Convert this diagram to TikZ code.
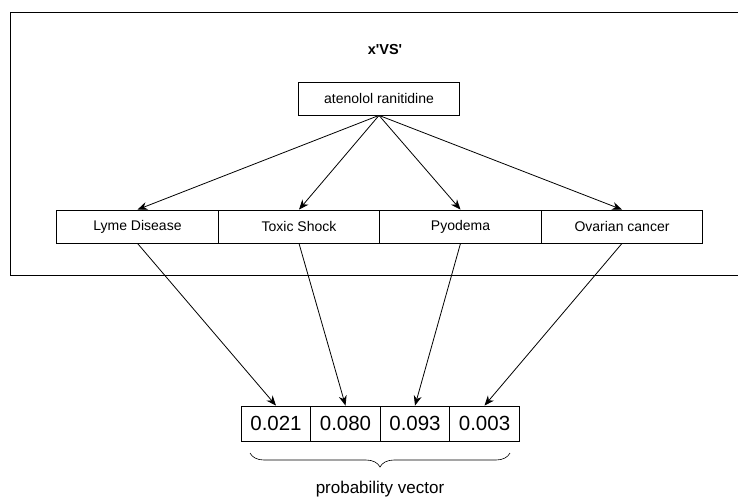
\documentclass[tikz,border=0pt]{standalone}
\usepackage{fontspec}
\setmainfont{Liberation Sans}
\newfontfamily\titlefont{Liberation Sans}
\usetikzlibrary{arrows.meta,decorations.pathreplacing}

\tikzset{
    labelbox/.style={draw, line width=0.8pt, minimum width=161.5pt, minimum height=33pt,
        inner sep=0pt, font=\fontsize{14}{16}\selectfont},
    cellbox/.style={draw, line width=0.8pt, minimum width=69.5pt, minimum height=35pt,
        inner sep=0pt, font=\fontsize{20.5}{23}\selectfont},
    link/.style={line width=0.8pt, -{Stealth[length=10pt,width=8pt]}}
}

\begin{document}
\begin{tikzpicture}[x=1pt, y=-1pt]
        \useasboundingbox (0,0) rectangle (738,499);

        % Draw the outer frame (open on the right)
        \draw[line width=0.8pt] (760,12) -- (10,12) -- (10,275) -- (760,275);
        \node[font=\titlefont\bfseries\fontsize{14.5}{16}\selectfont] (title) at (385,50) {x'VS'};

        % Draw the drug pair and the side effects
        \node[labelbox] (drug) at (379,98.5) {atenolol ranitidine};
        \node[labelbox] (lyme) at (137.5,226.5) {Lyme Disease};
        \node[labelbox] (toxic) at (299,226.5) {Toxic Shock};
        \node[labelbox] (pyo) at (460.5,226.5) {Pyodema};
        \node[labelbox] (ovar) at (622,226.5) {Ovarian cancer};

        % Draw the probability vector
        \node[cellbox] (p1) at (276,423.5) {0.021};
        \node[cellbox] (p2) at (345.5,423.5) {0.080};
        \node[cellbox] (p3) at (415,423.5) {0.093};
        \node[cellbox] (p4) at (484.5,423.5) {0.003};

        % Arrows from the drug pair to each side effect
        \foreach \s in {lyme,toxic,pyo,ovar}
            \draw[link] (drug.south) -- (\s.north);

        % Arrows from each side effect to its probability
        \draw[link] (lyme.south) -- (p1.north);
        \draw[link] (toxic.south) -- (p2.north);
        \draw[link] (pyo.south) -- (p3.north);
        \draw[link] (ovar.south) -- (p4.north);

        % Brace under the vector
        \coordinate (bl) at (250,453);
        \coordinate (br) at (510,453);
        \draw[line width=0.6pt, decorate, decoration={brace, mirror, amplitude=14pt}] (bl) -- (br);
        \node[font=\fontsize{17}{19}\selectfont, anchor=north, inner sep=1pt] (pv) at (380,480) {probability vector};
\end{tikzpicture}
\end{document}
